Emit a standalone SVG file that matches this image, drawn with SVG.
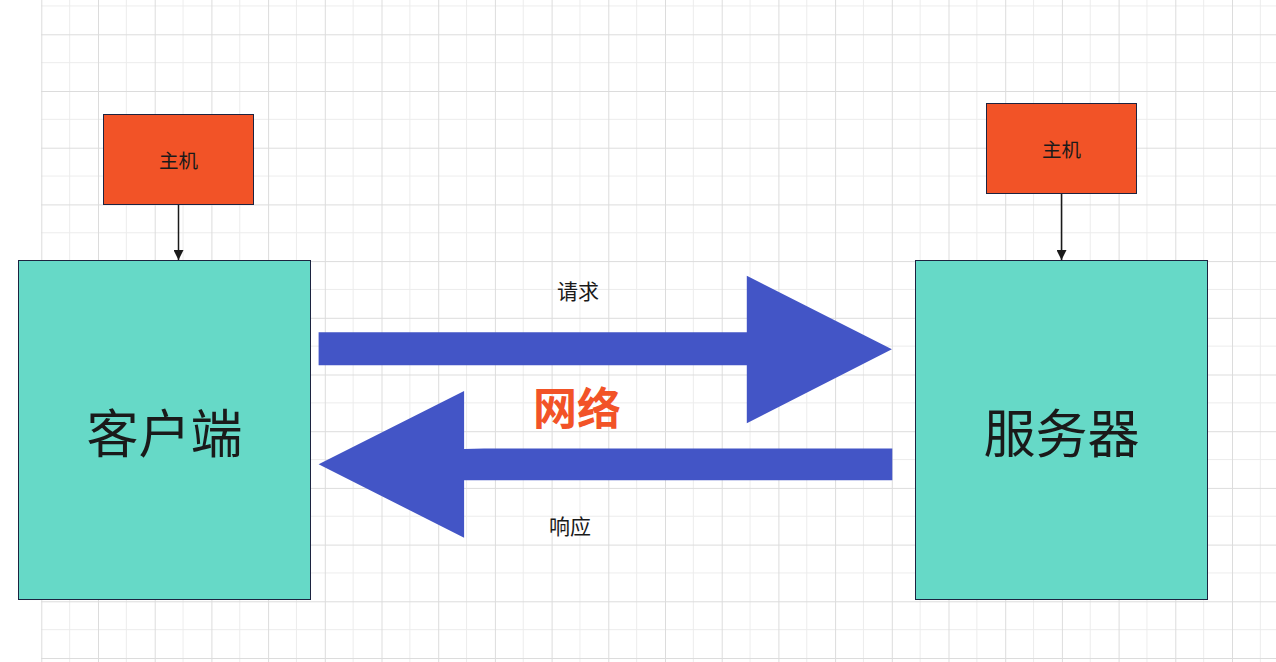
<svg xmlns="http://www.w3.org/2000/svg" width="1276" height="662" viewBox="0 0 1276 662">
<style>
.host{fill:#f25327;stroke:#1c2340;stroke-width:1}
.main{fill:#66d9c7;stroke:#1c2340;stroke-width:1}
.t{font-family:"Noto Sans CJK SC","Noto Sans",sans-serif;fill:#1a1a1a;text-anchor:middle;dominant-baseline:central}
.big{font-size:52px}
.small{font-size:19.5px}
.lbl{font-size:21px}
.conn{stroke:#1a1a1a;stroke-width:1.5;fill:none}
.blue{fill:#4355c6}
</style>
<defs>
<pattern id="grid" patternUnits="userSpaceOnUse" x="41.3" y="34.3" width="56.7" height="56.7">
<line x1="28.35" y1="0" x2="28.35" y2="56.7" stroke="#ececec" stroke-width="1"/>
<line x1="0" y1="28.35" x2="56.7" y2="28.35" stroke="#ececec" stroke-width="1"/>
<line x1="0.5" y1="0" x2="0.5" y2="56.7" stroke="#dcdcdc" stroke-width="1"/>
<line x1="0" y1="0.5" x2="56.7" y2="0.5" stroke="#dcdcdc" stroke-width="1"/>
</pattern>
<marker id="ah" markerWidth="10" markerHeight="10" refX="10" refY="5" orient="auto" markerUnits="userSpaceOnUse">
<path d="M0,0 L10,5 L0,10 Z" fill="#1a1a1a"/>
</marker>
</defs>
<rect width="1276" height="662" fill="#ffffff"/>
<rect x="41" y="0" width="1235" height="662" fill="url(#grid)"/>
<g id="connectors">
<line class="conn" x1="178.5" y1="204.5" x2="178.5" y2="260" marker-end="url(#ah)"/>
<line class="conn" x1="1061.5" y1="193.5" x2="1061.5" y2="260" marker-end="url(#ah)"/>
<path id="request-arrow" class="blue" d="M318.6,332.3 L746.8,332.3 L746.8,275.7 L891.9,349.3 L746.8,423.3 L746.8,365.3 L318.6,365.3 Z"/>
<path id="response-arrow" class="blue" d="M892.3,448.5 L484,448.5 L464.1,449 L464.1,391 L318.6,464.3 L464.1,537.7 L464.1,480.3 L892.3,480.3 Z"/>
</g>
<g id="host-left">
<rect class="host" x="103.5" y="114.5" width="150" height="90"/>
<text class="t small" x="178.5" y="159">主机</text>
</g>
<g id="host-right">
<rect class="host" x="986.5" y="103.5" width="150" height="90"/>
<text class="t small" x="1061.5" y="148">主机</text>
</g>
<g id="client">
<rect class="main" x="18.5" y="260.5" width="292" height="339"/>
<text class="t big" x="164.5" y="430">客户端</text>
</g>
<g id="server">
<rect class="main" x="915.5" y="260.5" width="292" height="339"/>
<text class="t big" x="1061.5" y="430">服务器</text>
</g>
<g id="labels">
<text class="t lbl" x="578" y="289.5">请求</text>
<text class="t lbl" x="570" y="524.5">响应</text>
<text class="t" x="577" y="406" style="font-size:44px;font-weight:bold;fill:#f25327">网络</text>
</g>
</svg>
